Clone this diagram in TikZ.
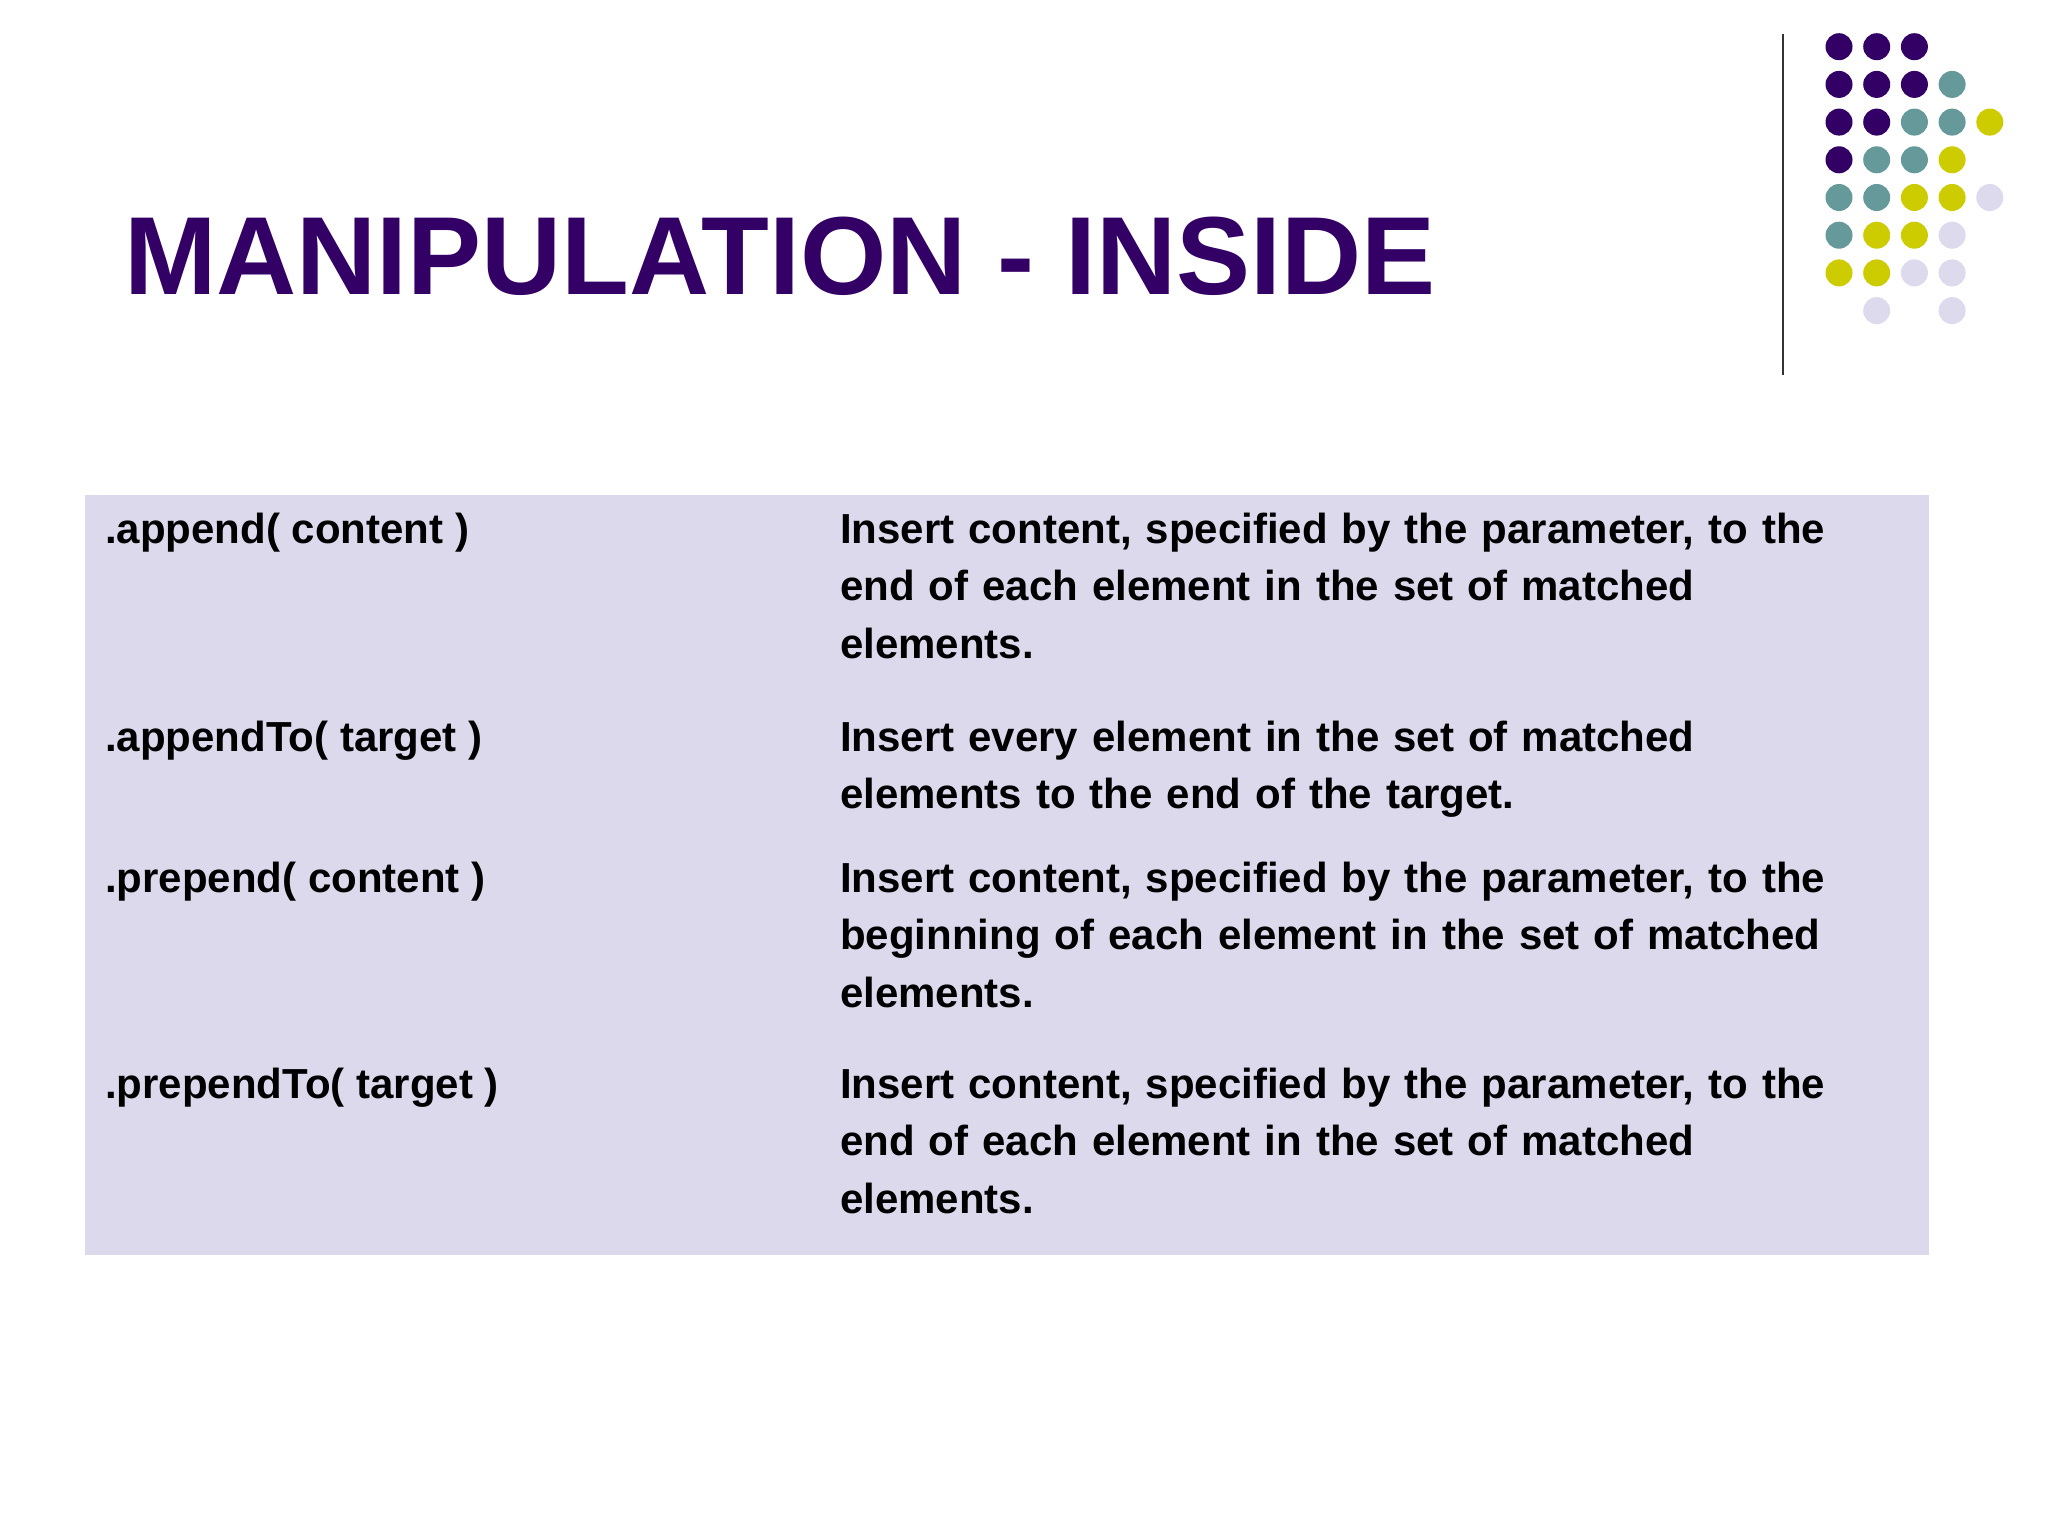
\documentclass[tikz,border=0pt]{standalone}
\usepackage{fontspec}
\setmainfont{Liberation Sans}
\definecolor{pp}{HTML}{330066}
\definecolor{tl}{HTML}{669999}
\definecolor{yl}{HTML}{CCCC00}
\definecolor{lv}{HTML}{DCDAEC}
\definecolor{bg}{HTML}{DCD9EC}
\begin{document}
\begin{tikzpicture}[x=1bp,y=-1bp,
  cell/.style={anchor=base west,align=left,inner sep=0pt,font=\fontsize{42bp}{57.5bp}\selectfont\bfseries},
  dot/.style={circle,inner sep=0pt,minimum size=27bp}]
\useasboundingbox (0,0) rectangle (2048,1536);
\fill[white] (0,0) rectangle (2048,1536);
\draw[line width=2.5bp,black!80] (1783,34) -- (1783,375);
\foreach \r/\row in {0/{pp,pp,pp,,},1/{pp,pp,pp,tl,},2/{pp,pp,tl,tl,yl},3/{pp,tl,tl,yl,},4/{tl,tl,yl,yl,lv},5/{tl,yl,yl,lv,},6/{yl,yl,lv,lv,},7/{,lv,,lv,}}{
  \foreach \c[count=\i from 0] in \row {
    \ifx\c\empty\else
      \node[dot,fill=\c] (d\r\i) at ({1839+37.7*\i},{46.7+37.7*\r}) {};
    \fi
  }
}
\node[anchor=base west,inner sep=0pt,text=pp,font=\fontsize{111bp}{111bp}\selectfont\bfseries] (title) at (124,294) {MANIPULATION - INSIDE};
\fill[bg] (85,495) rectangle (1929,1255);
\node[cell] (a1) at (105,543) {.append( content )};
\node[cell,text width=1060bp] (b1) at (840,543) {Insert content, specified by the parameter, to the\\end of each element in the set of matched\\elements.};
\node[cell] (a2) at (105,751) {.appendTo( target )};
\node[cell,text width=1060bp] (b2) at (840,751) {Insert every element in the set of matched\\elements to the end of the target.};
\node[cell] (a3) at (105,892) {.prepend( content )};
\node[cell,text width=1060bp] (b3) at (840,892) {Insert content, specified by the parameter, to the\\beginning of each element in the set of matched\\elements.};
\node[cell] (a4) at (105,1098) {.prependTo( target )};
\node[cell,text width=1060bp] (b4) at (840,1098) {Insert content, specified by the parameter, to the\\end of each element in the set of matched\\elements.};
\end{tikzpicture}
\end{document}
